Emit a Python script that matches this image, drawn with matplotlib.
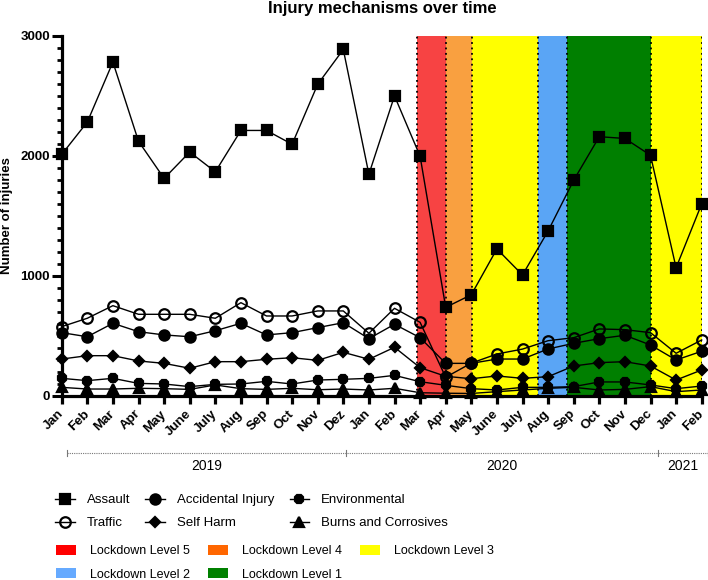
import numpy as np
import matplotlib
matplotlib.use("Agg")
import matplotlib.pyplot as plt
from matplotlib.ticker import MultipleLocator
from matplotlib.patches import Patch

plt.rcParams['font.family'] = ['Liberation Sans', 'DejaVu Sans']

# month labels, Jan 2019 .. Feb 2021
months = ['Jan', 'Feb', 'Mar', 'Apr', 'May', 'June', 'July', 'Aug', 'Sep', 'Oct', 'Nov', 'Dez',
          'Jan', 'Feb', 'Mar', 'Apr', 'May', 'June', 'July', 'Aug', 'Sep', 'Oct', 'Nov', 'Dec',
          'Jan', 'Feb']

assault = [2010, 2280, 2780, 2120, 1810, 2030, 1865, 2210, 2210, 2095, 2595, 2885, 1845,
           2498, 1995, 735, 840, 1222, 1005, 1372, 1795, 2158, 2143, 2003, 1065, 1598]
traffic = [574, 644, 749, 677, 677, 677, 644, 774, 663, 663, 705, 705, 519,
           727, 610, 152, 270, 346, 387, 457, 482, 555, 549, 524, 352, 463]
accidental = [524, 490, 602, 532, 505, 490, 540, 602, 505, 524, 566, 607, 474,
              594, 482, 268, 268, 304, 304, 388, 435, 474, 502, 421, 296, 369]
self_harm = [304, 332, 332, 288, 268, 227, 282, 282, 302, 315, 293, 360, 302,
             402, 232, 160, 140, 163, 143, 157, 246, 274, 282, 246, 129, 213]
environmental = [143, 124, 143, 101, 96, 74, 93, 96, 118, 96, 129, 135, 143,
                 168, 115, 85, 57, 46, 68, 68, 74, 113, 113, 88, 57, 79]
burns = [68, 54, 54, 60, 57, 51, 88, 57, 51, 60, 48, 54, 46,
         60, 23, 19, 17, 32, 46, 60, 68, 46, 51, 74, 32, 46]

# lockdown periods (in month-index units) and their colours
lockdown_edges = [13.87, 15.0, 16.04, 18.59, 19.73, 23.0, 25.0]
lockdown_levels = [5, 4, 3, 2, 1, 3]
shade_colors = {5: '#F74343', 4: '#F9A040', 3: '#FFFF00', 2: '#5AA5F5', 1: '#007F00'}
legend_colors = {5: '#FF0000', 4: '#FF6600', 3: '#FFFF00', 2: '#66AAFF', 1: '#008000'}

years = ['2019', '2020', '2021']
year_edges = [0.2, 11.1, 23.3, 25.25]

fig = plt.figure(figsize=(7.08, 5.80), dpi=100)
ax = fig.add_axes([61.7 / 708, 1 - 395.5 / 580, 640 / 708, 359.8 / 580])

x = np.arange(len(months))

for i, lvl in enumerate(lockdown_levels):
    ax.axvspan(lockdown_edges[i], lockdown_edges[i + 1], color=shade_colors[lvl], lw=0, zorder=0)
for e in lockdown_edges:
    ax.axvline(e, color='black', ls=(0, (1, 2)), lw=1.3, zorder=1)

series = [
    (assault, 's', 7.0, 'black', 'Assault'),
    (traffic, 'o', 7.6, 'none', 'Traffic'),
    (accidental, 'o', 7.4, 'black', 'Accidental Injury'),
    (self_harm, 'D', 5.2, 'black', 'Self Harm'),
    (environmental, '8', 6.4, 'black', 'Environmental'),
    (burns, '^', 6.6, 'black', 'Burns and Corrosives'),
]
handles = {}
for vals, mk, ms, fc, name in series:
    ln, = ax.plot(x, vals, color='black', lw=1.0, marker=mk, ms=ms,
                  markerfacecolor=fc, markeredgecolor='black', markeredgewidth=1.6,
                  clip_on=False, zorder=3)
    handles[name] = ln

ax.set_xlim(0, 25)
ax.set_ylim(0, 3000)
ax.set_xticks(x)
ax.set_xticklabels(months, rotation=45, ha='right', va='center', rotation_mode='anchor',
                   fontsize=9.5, fontweight='bold')
ax.set_yticks([0, 1000, 2000, 3000])
ax.set_yticklabels(['0', '1000', '2000', '3000'], fontsize=9.5, fontweight='bold')
ax.yaxis.set_minor_locator(MultipleLocator(100))
ax.tick_params(axis='y', which='major', length=7, width=2.2, pad=1.5)
ax.tick_params(axis='y', which='minor', length=3.6, width=2.0)
ax.tick_params(axis='x', which='major', length=6, width=2.3, pad=6)
for s in ['top', 'right']:
    ax.spines[s].set_visible(False)
for s in ['left', 'bottom']:
    ax.spines[s].set_linewidth(2.3)
    ax.spines[s].set_zorder(4)

# year bracket below the month labels
tr = ax.get_xaxis_transform()
yb = (395.5 - 453) / 359.8
ax.plot([year_edges[0], year_edges[-1]], [yb, yb], transform=tr, color='#777777',
        ls=(0, (1, 1)), lw=0.8, clip_on=False)
for e in year_edges:
    ax.plot([e, e], [yb - 0.007, yb + 0.007], transform=tr, color='#777777', lw=0.8, clip_on=False)
for i, yr in enumerate(years):
    ax.text((year_edges[i] + year_edges[i + 1]) / 2, (395.5 - 459) / 359.8, yr,
            transform=tr, ha='center', va='top', fontsize=10)

fig.text(382.5 / 708, 1 - 8.5 / 580, 'Injury mechanisms over time', ha='center', va='center',
         fontsize=12, fontweight='bold')
fig.text(7 / 708, 1 - 215.6 / 580, 'Number of injuries', rotation=90, ha='center', va='center',
         fontsize=9.5, fontweight='bold')

order = ['Assault', 'Traffic', 'Accidental Injury', 'Self Harm', 'Environmental', 'Burns and Corrosives']
fig.legend([handles[n] for n in order], order, ncol=3, loc='upper left',
           bbox_to_anchor=(55 / 708, 1 - 494 / 580), frameon=False, fontsize=9.5,
           handlelength=1.5, handletextpad=0.9, columnspacing=1.15, labelspacing=0.82,
           borderaxespad=0, borderpad=0)

lk_order = [5, 2, 4, 1, 3]
patches = [Patch(facecolor=legend_colors[l], edgecolor='none') for l in lk_order]
fig.legend(patches, ['Lockdown Level %d' % l for l in lk_order], ncol=3, loc='upper left',
           bbox_to_anchor=(56 / 708, 1 - 545 / 580), frameon=False, fontsize=9,
           handlelength=1.6, handleheight=0.8, handletextpad=1.1, columnspacing=1.45,
           labelspacing=0.9, borderaxespad=0, borderpad=0)

fig.savefig('out.png', dpi=100)
